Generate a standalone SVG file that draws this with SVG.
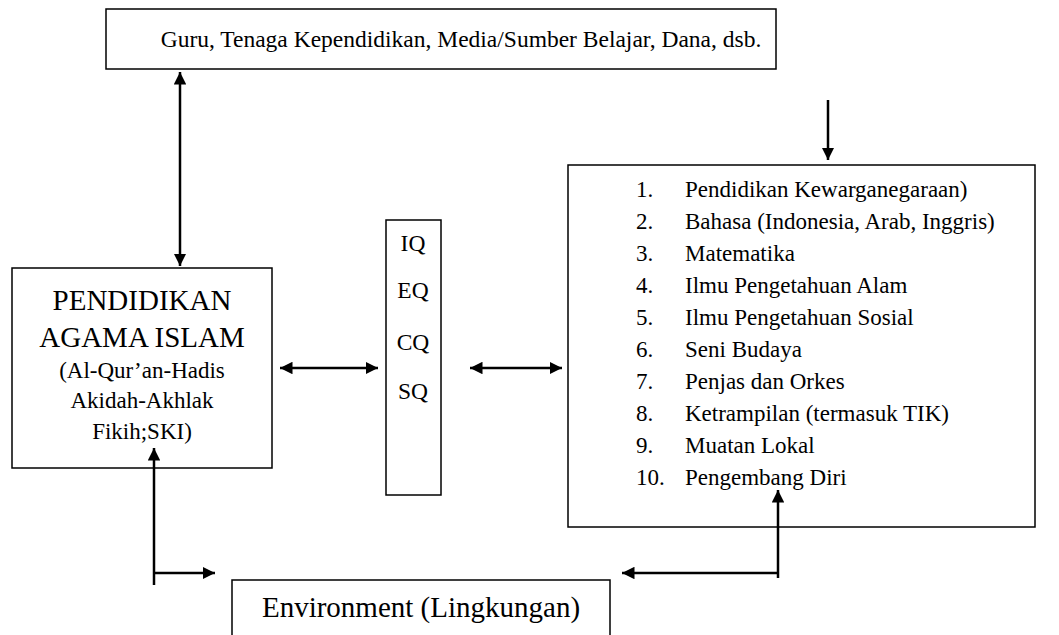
<svg xmlns="http://www.w3.org/2000/svg" width="1059" height="635" viewBox="0 0 1059 635">
<style>
.box{fill:#fff;stroke:#000;stroke-width:1.5}
.ln{stroke:#000;stroke-width:2.5;fill:none}
</style>
<defs>
<marker id="ah" viewBox="0 0 10 10" refX="10" refY="5" markerWidth="5" markerHeight="5" orient="auto-start-reverse" markerUnits="strokeWidth">
<path d="M0,0 L10,5 L0,10 z" fill="#000"/>
</marker>
</defs>
<rect width="1059" height="635" fill="#fff"/>
<g font-family="'Liberation Serif', 'Times New Roman', serif" fill="#000">
<g id="top">
<rect class="box" x="106" y="9" width="670" height="60"/>
<text x="461" y="47" font-size="23.5" text-anchor="middle">Guru, Tenaga Kependidikan, Media/Sumber Belajar, Dana, dsb.</text>
</g>
<g id="pai" text-anchor="middle">
<rect class="box" x="12" y="268" width="260" height="200"/>
<text x="142" y="310" font-size="29">PENDIDIKAN</text>
<text x="142" y="347" font-size="29">AGAMA ISLAM</text>
<text x="142" y="378" font-size="23">(Al-Qur’an-Hadis</text>
<text x="142" y="408" font-size="23">Akidah-Akhlak</text>
<text x="142" y="439" font-size="23">Fikih;SKI)</text>
</g>
<g id="q" text-anchor="middle" font-size="23.5">
<rect class="box" x="386" y="220" width="55" height="275"/>
<text x="413" y="251">IQ</text>
<text x="413" y="298">EQ</text>
<text x="413" y="350">CQ</text>
<text x="413" y="399">SQ</text>
</g>
<g id="subjects" font-size="23">
<rect class="box" x="568" y="165" width="467" height="362"/>
<text x="636" y="197">1.</text><text x="685" y="197">Pendidikan Kewarganegaraan)</text>
<text x="636" y="229">2.</text><text x="685" y="229">Bahasa (Indonesia, Arab, Inggris)</text>
<text x="636" y="261">3.</text><text x="685" y="261">Matematika</text>
<text x="636" y="293">4.</text><text x="685" y="293">Ilmu Pengetahuan Alam</text>
<text x="636" y="325">5.</text><text x="685" y="325">Ilmu Pengetahuan Sosial</text>
<text x="636" y="357">6.</text><text x="685" y="357">Seni Budaya</text>
<text x="636" y="389">7.</text><text x="685" y="389">Penjas dan Orkes</text>
<text x="636" y="421">8.</text><text x="685" y="421">Ketrampilan (termasuk TIK)</text>
<text x="636" y="453">9.</text><text x="685" y="453">Muatan Lokal</text>
<text x="636" y="485">10.</text><text x="685" y="485">Pengembang Diri</text>
</g>
<g id="env">
<rect class="box" x="232" y="580" width="378" height="70"/>
<text x="421" y="617" font-size="29" text-anchor="middle">Environment (Lingkungan)</text>
</g>
</g>
<g id="connectors">
<line class="ln" x1="180" y1="72" x2="180" y2="266" marker-start="url(#ah)" marker-end="url(#ah)"/>
<line class="ln" x1="828" y1="100" x2="828" y2="160" marker-end="url(#ah)"/>
<line class="ln" x1="280" y1="368" x2="378" y2="368" marker-start="url(#ah)" marker-end="url(#ah)"/>
<line class="ln" x1="470" y1="368" x2="562" y2="368" marker-start="url(#ah)" marker-end="url(#ah)"/>
<line class="ln" x1="154" y1="585" x2="154" y2="448" marker-end="url(#ah)"/>
<line class="ln" x1="154" y1="573" x2="215" y2="573" marker-end="url(#ah)"/>
<line class="ln" x1="778" y1="578" x2="778" y2="490" marker-end="url(#ah)"/>
<line class="ln" x1="778" y1="573" x2="622" y2="573" marker-end="url(#ah)"/>
</g>
</svg>
